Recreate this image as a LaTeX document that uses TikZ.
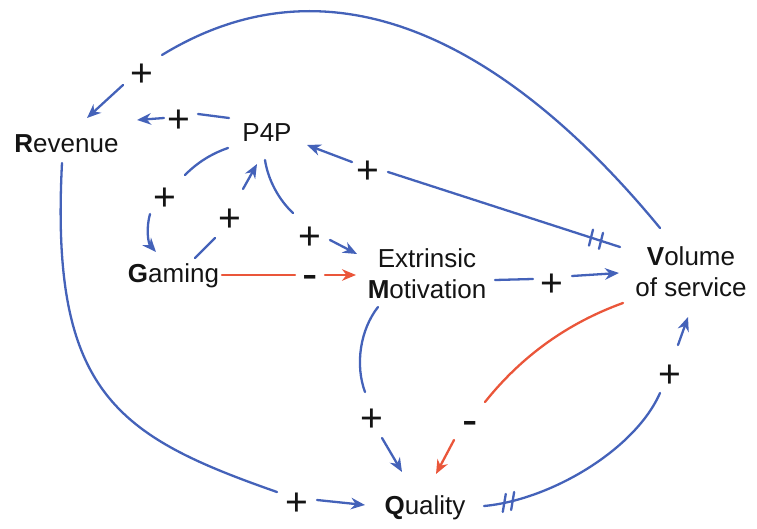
\documentclass[tikz,border=0pt]{standalone}
\usepackage{fontspec}
\setmainfont{Liberation Sans}
\usetikzlibrary{arrows.meta,calc}
\definecolor{loopblue}{RGB}{68,98,185}
\definecolor{loopred}{RGB}{234,86,58}
\definecolor{labelink}{RGB}{20,20,20}
\begin{document}
\begin{tikzpicture}[x=1pt,y=-1pt,
  var/.style={font=\fontsize{26}{31}\selectfont, text=labelink, inner sep=0pt,
              text height=19pt, text depth=5.5pt},
  var2/.style={font=\fontsize{26}{31}\selectfont, text=labelink, inner sep=0pt, align=center},
  plussign/.style={font=\fontsize{39}{39}\selectfont, text=labelink, inner sep=0pt,
                   text height=26.4pt, text depth=0pt},
  minussign/.style={font=\fontsize{46}{46}\selectfont, text=labelink, inner sep=0pt,
                    text height=24.8pt, text depth=0pt},
  link/.style={loopblue, line width=2.3pt, line cap=round},
  neg/.style={loopred, line width=2.3pt, line cap=round},
  arrowed/.style={-{Stealth[length=14pt,width=11.5pt,inset=4.5pt]}}]
\useasboundingbox (0,0) rectangle (757,529);

% variables of the causal loop diagram
\node[var]  (rev)  at (66.5,146.25) {\textbf{R}evenue};
\node[var]  (p4p)  at (267,135.25)  {P4P};
\node[var]  (gam)  at (173.5,276.25) {\textbf{G}aming};
\node[var2] (ext)  at (427,274)     {Extrinsic\\\textbf{M}otivation};
\node[var2] (vol)  at (691,271.5)   {\textbf{V}olume\\of service};
\node[var]  (qual) at (425,507.25)  {\textbf{Q}uality};

% link polarities
\node[plussign]  (s1)  at (142,73)  {+};
\node[plussign]  (s2)  at (179,119) {+};
\node[plussign]  (s3)  at (368,170) {+};
\node[plussign]  (s4)  at (165,197) {+};
\node[plussign]  (s5)  at (230,218) {+};
\node[plussign]  (s6)  at (310,236) {+};
\node[minussign] (s7)  at (310,277) {-};
\node[plussign]  (s8)  at (552,283) {+};
\node[plussign]  (s9)  at (372,418) {+};
\node[minussign] (s10) at (470,423) {-};
\node[plussign]  (s11) at (670,374) {+};
\node[plussign]  (s12) at (297,502) {+};

% Volume -> Revenue
\draw[link] ($(vol)+(-31,-43.5)$) .. controls (530,70) and (350,-60) .. ($(s1)+(20,-18)$);
\draw[link,arrowed] ($(s1)+(-19,12)$) -- ($(rev)+(20.5,-28.25)$);

% P4P -> Revenue
\draw[link] ($(p4p)+(-38,-17.25)$) -- ($(s2)+(19,-5)$);
\draw[link,arrowed] ($(s2)+(-15,-1)$) -- ($(rev)+(70.5,-26.25)$);

% Volume -> P4P, with delay
\draw[link] ($(vol)+(-71,-24.5)$) -- ($(s3)+(20,2)$)
  coordinate[pos=0.082] (d1) coordinate[pos=0.125] (d2);
\draw[link] ([shift={(-2,8)}]d1) -- ([shift={(2,-8)}]d1);
\draw[link] ([shift={(-2,8)}]d2) -- ([shift={(2,-8)}]d2);
\draw[link,arrowed] ($(s3)+(-16,-8)$) -- ($(p4p)+(40,9.75)$);

% P4P -> Gaming
\draw[link] ($(p4p)+(-39,12.75)$) .. controls (211.6,153.6) and (197.2,162.6) .. ($(s4)+(20,-22)$);
\draw[link,arrowed] ($(s4)+(-15,17)$) .. controls (146,228) and (148,243) .. ($(gam)+(-17.5,-24.25)$);

% Gaming -> P4P
\draw[link] ($(gam)+(21.5,-18.25)$) -- ($(s5)+(-15,20)$);
\draw[link,arrowed] ($(s5)+(13,-29)$) -- ($(p4p)+(-10,28.75)$);

% P4P -> Extrinsic Motivation
\draw[link] ($(p4p)+(-2,24.75)$) .. controls (268,180) and (279,200) .. ($(s6)+(-17,-23)$);
\draw[link,arrowed] ($(s6)+(20,4)$) -- ($(ext)+(-70,-20)$);

% Gaming -> Extrinsic Motivation (negative)
\draw[neg] ($(gam)+(48.5,-1.25)$) -- ($(s7)+(-15,-2)$);
\draw[neg,arrowed] ($(s7)+(15,-2)$) -- ($(ext)+(-71,1)$);

% Extrinsic Motivation -> Volume
\draw[link] ($(ext)+(68,6)$) -- ($(s8)+(-19,-4)$);
\draw[link,arrowed] ($(s8)+(20,-7)$) -- ($(vol)+(-72,1.5)$);

% Extrinsic Motivation -> Quality
\draw[link] ($(ext)+(-49,33)$) .. controls (360,330) and (355,365) .. ($(s9)+(-7,-26)$);
\draw[link,arrowed] ($(s9)+(10,20)$) -- ($(qual)+(-23,-35.25)$);

% Volume -> Quality (negative)
\draw[neg] ($(vol)+(-68,31.5)$) .. controls (567.7,323) and (521.7,356) .. ($(s10)+(15,-21)$);
\draw[neg,arrowed] ($(s10)+(-16,17)$) -- ($(qual)+(11,-33.25)$);

% Quality -> Volume, with delay
\draw[link] ($(qual)+(59,-1.25)$) .. controls (550,500) and (635,450) .. ($(s11)+(-10,19)$)
  coordinate[pos=0.1] (d3) coordinate[pos=0.14] (d4);
\draw[link] ([shift={(-1.5,9)}]d3) -- ([shift={(1.5,-9)}]d3);
\draw[link] ([shift={(-1.5,9)}]d4) -- ([shift={(1.5,-9)}]d4);
\draw[link,arrowed] ($(s11)+(8,-29)$) -- ($(vol)+(-3,45.5)$);

% Revenue -> Quality
\draw[link] ($(rev)+(-4.5,16.75)$) .. controls (50,393) and (117,436) .. ($(s12)+(-20,-10)$);
\draw[link,arrowed] ($(s12)+(20,-2)$) -- ($(qual)+(-60,-2.25)$);
\end{tikzpicture}
\end{document}
